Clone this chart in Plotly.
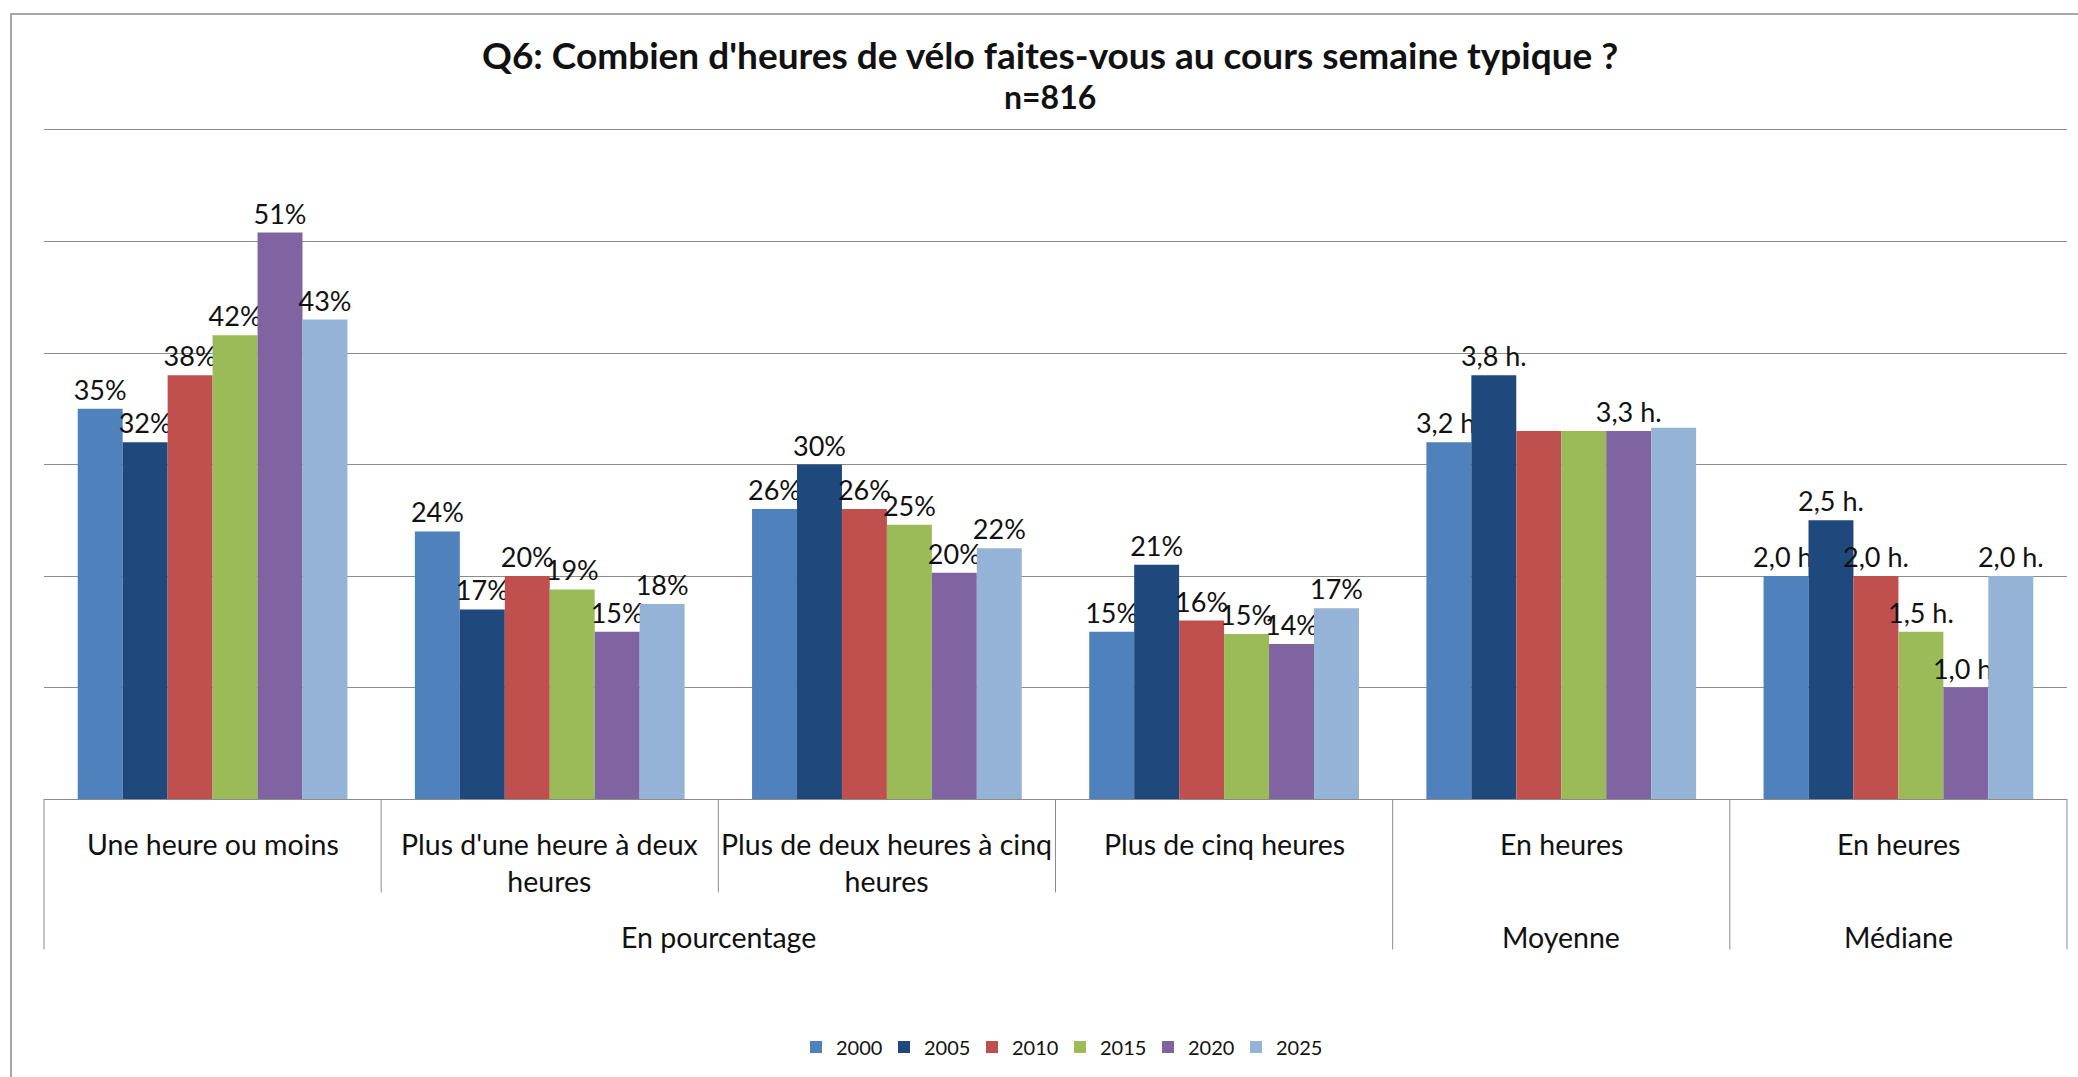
import plotly.graph_objects as go

# --- data ---
years = ["2000", "2005", "2010", "2015", "2020", "2025"]
colors = ["#4F81BD", "#1F497D", "#C0504D", "#9BBB59", "#8064A2", "#95B3D7"]

categories = [
    "Une heure ou moins",
    "Plus d'une heure à deux<br>heures",
    "Plus de deux heures à cinq<br>heures",
    "Plus de cinq heures",
    "En heures",
    "En heures",
]
groups = ["En pourcentage", "Moyenne", "Médiane"]
group_span = [4, 1, 1]  # number of categories under each group

# percentages per category, one value per year
une_heure_ou_moins = [35, 32, 38, 41.6, 50.8, 43]
une_a_deux_heures = [24, 17, 20, 18.8, 15, 17.5]
deux_a_cinq_heures = [26, 30, 26, 24.6, 20.3, 22.5]
plus_de_cinq_heures = [15, 21, 16, 14.8, 13.9, 17.1]
# hours (drawn on the same scale, 1 h = 10 %)
moyenne_heures = [3.2, 3.8, 3.3, 3.3, 3.3, 3.33]
mediane_heures = [2.0, 2.5, 2.0, 1.5, 1.0, 2.0]
moyenne_sans_etiquette = ["2010", "2015", "2025"]

# --- page geometry ---
W, H = 2078, 1077
ML, MR, MT, MB = 44, 11, 130, 267
PW, PH = W - ML - MR, H - MT - MB
FONT = "Lato"
TXT = "#111111"
LINE = "#8c8c8c"


def py(px):
    """pixel row -> paper y"""
    return (H - MB - px) / PH


def pxx(px):
    return (px - ML) / PW


pct_series = [une_heure_ou_moins, une_a_deux_heures, deux_a_cinq_heures, plus_de_cinq_heures]

fig = go.Figure()
for i, year in enumerate(years):
    vals = [s[i] for s in pct_series] + [moyenne_heures[i] * 10, mediane_heures[i] * 10]
    labels = [f"{round(s[i])}%" for s in pct_series]
    m = f"{moyenne_heures[i]:.1f}".replace(".", ",") + " h."
    labels.append("" if year in moyenne_sans_etiquette else m)
    labels.append(f"{mediane_heures[i]:.1f}".replace(".", ",") + " h.")
    fig.add_trace(go.Bar(
        x=list(range(len(categories))), y=vals, name=year,
        marker=dict(color=colors[i], line=dict(width=0)),
        text=labels, textposition="outside", constraintext="none",
        cliponaxis=False,
        textfont=dict(family=FONT, size=27, color=TXT),
    ))

n = len(categories)
shapes = []
# inner dividers (between sub categories) and outer dividers (between groups)
bounds = [0]
for s in group_span:
    bounds.append(bounds[-1] + s)
for b in range(n + 1):
    bottom = 963 if b in bounds else 905
    shapes.append(dict(type="line", xref="paper", yref="paper",
                       x0=b / n, x1=b / n, y0=0, y1=py(bottom),
                       line=dict(color=LINE, width=1)))
# outer frame of the chart
shapes.append(dict(type="rect", xref="paper", yref="paper",
                   x0=pxx(11), x1=pxx(W + 20), y0=py(12), y1=py(H + 20),
                   line=dict(color="#8a8a8a", width=1.5)))

annotations = []
for i, c in enumerate(categories):
    annotations.append(dict(x=i, xref="x", y=py(836), yref="paper", yanchor="top",
                            text=c, showarrow=False,
                            font=dict(family=FONT, size=28.5, color=TXT)))
for g, (a, b) in zip(groups, zip(bounds[:-1], bounds[1:])):
    annotations.append(dict(x=(a + b - 1) / 2, xref="x", y=py(950), yref="paper",
                            yanchor="middle", text=g, showarrow=False,
                            font=dict(family=FONT, size=28.5, color=TXT)))
annotations.append(dict(x=pxx(1050), xref="paper", y=py(53), yref="paper", yanchor="middle",
                        text="<b>Q6: Combien d'heures de vélo faites-vous au cours semaine typique ?</b>",
                        showarrow=False, font=dict(family=FONT, size=37, color=TXT)))
annotations.append(dict(x=pxx(1050), xref="paper", y=py(96), yref="paper", yanchor="middle",
                        text="<b>n=816</b>", showarrow=False,
                        font=dict(family=FONT, size=32, color=TXT)))

fig.update_layout(
    width=W, height=H,
    margin=dict(l=ML, r=MR, t=MT, b=MB),
    paper_bgcolor="white", plot_bgcolor="white",
    barmode="group", bargap=0.2, bargroupgap=0,
    font=dict(family=FONT, color=TXT),
    showlegend=True,
    legend=dict(orientation="h", x=pxx(1060), xanchor="center", y=py(1062), yanchor="middle",
                font=dict(family=FONT, size=20, color=TXT),
                entrywidth=43, traceorder="normal"),
    xaxis=dict(range=[-0.5, n - 0.5], showticklabels=False, showgrid=False,
               zeroline=False, fixedrange=True,
               showline=True, mirror=True, linecolor=LINE, linewidth=1),
    yaxis=dict(range=[0, 60], dtick=10, showticklabels=False, showgrid=True,
               gridcolor=LINE, gridwidth=1, zeroline=False, fixedrange=True),
    shapes=shapes, annotations=annotations,
)

# the page's default body margin would shift the figure by 8 px
fig.write_html("out.html", config={"displayModeBar": False},
               post_script="document.body.style.margin='0';document.body.style.overflow='hidden';")
